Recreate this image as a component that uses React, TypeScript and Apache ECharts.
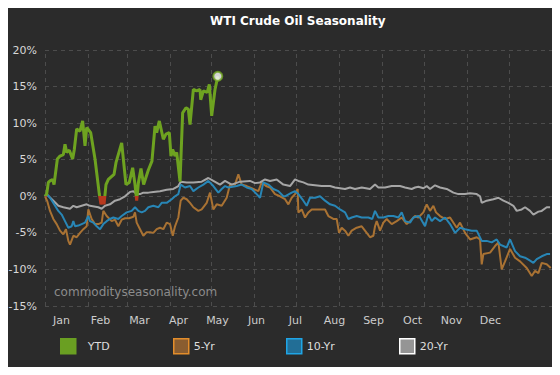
import React, { useEffect, useRef } from "react";
import * as echarts from "echarts";

const TITLE = "WTI Crude Oil Seasonality";
const MONTHS = ["Jan", "Feb", "Mar", "Apr", "May", "Jun", "Jul", "Aug", "Sep", "Oct", "Nov", "Dec", ""];
const MONTH_STARTS = [0, 31, 59, 90, 120, 151, 181, 212, 243, 273, 304, 334, 365];
const Y_MIN = -15;
const Y_MAX = 20;
const Y_STEP = 5;

const YTD: [number, number][] = [
  [0, 0], [1.2, 0.3], [2.4, 1.9], [3.6, 2.1], [5.5, 2.3], [6.5, 1.6], [8.9, 5.1], [10.8, 5.5],
  [13.2, 5.7], [14.4, 7.1], [15.6, 6.0], [17.5, 6.3], [19.9, 5.1], [21.1, 6.4], [22.8, 9.2],
  [25.2, 8.9], [27.1, 10.3], [28.8, 6.9], [30.0, 9.4], [32.9, 8.7], [36.0, 5.1], [39.1, 0.3],
  [40.3, -1.1], [41.5, 0], [42.5, -1.1], [43.9, 1.6], [45.6, 2.3], [49.7, 3.0], [51.1, 4.6],
  [55.2, 7.3], [58.3, 1.6], [60.7, 1.9], [63.1, 3.9], [64.8, 1.6], [66.0, -0.6], [67.2, 1.8],
  [69.1, 3.8], [71.0, 1.6], [74.4, 3.6], [77.0, 4.8], [79.2, 9.6], [80.4, 8.7], [82.3, 10.3],
  [85.2, 7.8], [87.1, 8.5], [89.5, 8.7], [90.7, 5.5], [91.9, 6.4], [93.6, 5.5], [94.8, 6.0],
  [97.2, 2.0], [99.1, 11.4], [101.5, 12.1], [103.2, 11.9], [104.4, 9.8], [106.8, 14.6],
  [109.2, 14.4], [111.6, 14.6], [112.1, 13.2], [114.0, 14.4], [116.8, 14.2], [118.3, 15.3],
  [120.0, 11.0], [122.4, 14.6], [124.4, 16.4],
];

const FIVE_YR: [number, number][] = [
  [0, 0], [1.7, -0.7], [3.6, -2.0], [6.0, -3.1], [8.4, -3.8], [10.8, -4.7], [13.2, -5.2],
  [15.1, -4.5], [16.8, -6.1], [18.0, -6.6], [20.4, -5.4], [22.8, -5.6], [25.2, -5.0],
  [27.6, -4.5], [30.0, -4.1], [31.2, -1.8], [33.6, -3.1], [36.0, -3.8], [38.4, -3.8],
  [40.8, -3.6], [42.0, -2.0], [44.4, -2.7], [48.0, -3.4], [50.4, -3.2], [52.8, -4.1],
  [55.2, -3.2], [57.6, -3.0], [60.5, -3.0], [63.6, -2.8], [64.8, -2.2], [66.0, -3.6],
  [68.4, -4.5], [70.8, -5.4], [73.2, -4.9], [75.6, -4.9], [78.0, -5.0], [80.4, -4.5],
  [82.8, -4.3], [85.2, -4.5], [87.6, -3.6], [90.0, -3.8], [92.0, -5.4], [93.6, -4.1],
  [96.0, -2.9], [97.7, -0.6], [99.6, -0.2], [102.0, -0.4], [104.4, -0.9], [106.8, -1.5],
  [110.4, -2.0], [112.8, -1.8], [116.4, -0.9], [118.8, 0.5], [121.2, -1.8], [123.6, -1.1],
  [127.2, -1.3], [130.8, -0.2], [133.2, 1.6], [136.8, 1.6], [139.2, 3.0], [141.6, 1.6],
  [145.2, 1.4], [150.0, 1.0], [153.6, 0.7], [156.0, 1.9], [159.1, 1.4], [162.0, 1.2],
  [165.6, 0.3], [169.2, 0], [172.8, -0.4], [175.2, -1.1], [177.6, -0.2], [180.0, 0.3],
  [181.9, 1.0], [182.4, -2.2], [184.8, -1.8], [187.2, -2.9], [189.6, -2.2], [192.0, -1.8],
  [196.8, -1.8], [201.6, -1.8], [204.0, -2.7], [207.6, -3.1], [210.0, -3.1], [211.7, -5.0],
  [213.6, -4.3], [216.0, -4.7], [218.4, -5.4], [220.8, -4.7], [224.4, -4.3], [228.0, -4.1],
  [231.6, -5.0], [234.0, -5.6], [236.4, -5.4], [237.6, -4.1], [238.8, -3.4], [241.2, -4.7],
  [243.6, -3.6], [246.0, -3.1], [249.6, -3.8], [253.2, -3.4], [256.8, -2.9], [260.4, -3.8],
  [262.8, -3.4], [266.4, -2.7], [268.8, -2.9], [272.4, -2.2], [274.8, -1.1], [277.2, -2.0],
  [279.6, -1.3], [281.5, -2.2], [284.4, -2.7], [288.0, -3.1], [291.6, -2.9], [296.4, -4.3],
  [298.8, -3.6], [302.4, -5.0], [306.0, -5.9], [310.8, -5.6], [313.2, -5.9], [314.4, -9.3],
  [315.6, -7.9], [320.4, -7.7], [324.0, -6.8], [326.4, -6.3], [328.8, -10.0], [331.2, -8.9],
  [334.8, -7.2], [338.4, -8.4], [342.0, -8.9], [346.8, -9.8], [350.4, -10.9], [352.8, -10.2],
  [355.2, -10.5], [357.6, -9.1], [361.2, -9.3], [364.1, -9.8],
];

const TEN_YR: [number, number][] = [
  [0, 0], [1.2, 0.3], [3.6, -0.2], [6.0, -0.9], [9.6, -2.0], [12.0, -2.5], [14.4, -3.4],
  [16.8, -4.3], [19.2, -4.1], [20.4, -3.4], [21.6, -4.1], [24.0, -4.0], [26.4, -3.8],
  [28.8, -3.6], [31.2, -2.7], [32.4, -3.4], [34.8, -3.6], [37.2, -4.1], [39.6, -4.5],
  [42.0, -3.8], [44.4, -3.4], [46.8, -3.1], [49.2, -2.9], [52.8, -3.1], [55.2, -2.7],
  [58.8, -2.2], [62.4, -2.0], [64.8, -1.5], [67.2, -2.0], [69.6, -2.2], [72.0, -2.0],
  [74.4, -1.5], [78.0, -1.3], [81.6, -1.5], [84.0, -0.9], [87.6, -0.9], [91.2, -0.4],
  [93.6, 0], [96.0, 0.3], [97.7, 1.6], [100.8, 1.2], [104.4, 1.4], [106.8, 0.7], [110.4, 1.2],
  [114.0, 1.6], [117.6, 2.1], [121.2, 1.4], [124.8, 0.5], [127.2, 1.0], [129.6, 1.4],
  [132.0, 1.2], [138.0, 1.4], [141.6, 1.6], [145.2, 1.2], [148.8, 1.0], [152.4, 0.3],
  [154.8, -0.2], [157.2, 1.9], [160.8, 1.6], [164.4, 1.0], [168.0, 0.7], [171.6, 0],
  [172.8, 0], [177.6, 0.5], [180.0, 0.7], [182.4, 0.3], [186.0, -0.6], [188.4, -1.3],
  [190.8, -0.2], [194.4, -0.2], [198.0, 0], [201.6, -0.6], [205.2, -1.1], [208.8, -1.3],
  [212.4, -1.8], [216.0, -2.2], [218.4, -3.1], [220.8, -2.9], [224.4, -2.7], [228.0, -2.9],
  [232.8, -2.9], [235.6, -3.1], [237.6, -2.0], [240.0, -2.9], [243.6, -2.9], [247.2, -2.7],
  [250.8, -2.7], [254.4, -2.9], [256.8, -2.2], [259.2, -3.4], [262.8, -3.6], [265.2, -2.9],
  [268.8, -2.7], [270.0, -2.9], [273.6, -4.1], [276.0, -2.5], [278.4, -3.4], [280.8, -2.9],
  [284.4, -3.4], [288.0, -2.9], [291.6, -3.8], [295.2, -5.0], [298.8, -4.3], [302.4, -4.5],
  [307.2, -4.7], [310.8, -4.7], [314.4, -6.1], [318.0, -6.1], [321.6, -6.3], [325.2, -5.9],
  [327.6, -6.6], [332.4, -7.0], [334.8, -5.9], [338.4, -7.5], [342.0, -8.2], [345.6, -8.4],
  [349.2, -8.8], [351.6, -9.1], [354.0, -8.6], [357.6, -8.2], [361.2, -7.9], [363.6, -7.9],
];

const TWENTY_YR: [number, number][] = [
  [0, 0], [1.2, 0.3], [6.0, -0.6], [9.6, -1.3], [13.2, -1.5], [18.0, -1.7], [20.4, -1.3],
  [22.8, -1.5], [26.4, -1.3], [30.0, -1.1], [32.4, -1.3], [38.4, -1.5], [40.8, -1.7],
  [43.2, -1.3], [46.8, -1.1], [50.4, -0.6], [54.0, -0.4], [57.6, 0], [61.2, 0.6], [63.6, 0.7],
  [66.0, 0.3], [68.4, 0.3], [70.8, 0.5], [74.4, 0.5], [78.0, 0.6], [82.8, 0.7], [87.6, 0.9],
  [92.4, 1.0], [96.0, 1.4], [97.7, 2.0], [102.0, 1.9], [106.8, 1.9], [112.8, 2.0],
  [117.6, 2.5], [121.2, 2.1], [126.0, 1.6], [129.6, 2.1], [134.4, 1.6], [140.4, 2.0],
  [147.6, 2.1], [151.2, 1.8], [154.8, 1.9], [158.4, 2.3], [162.0, 2.1], [166.8, 2.3],
  [171.6, 1.6], [176.4, 1.4], [180.0, 2.3], [182.4, 2.1], [186.0, 1.9], [189.6, 1.6],
  [199.2, 1.4], [205.2, 1.4], [208.8, 1.2], [216.0, 1.0], [219.6, 1.2], [223.2, 1.0],
  [228.0, 1.2], [234.0, 1.0], [237.6, 1.6], [240.0, 1.2], [244.8, 1.2], [249.6, 1.4],
  [255.6, 1.4], [259.2, 1.2], [264.0, 1.0], [266.4, 1.2], [268.8, 1.3], [272.4, 1.1],
  [274.8, 1.4], [277.2, 1.0], [280.8, 1.5], [284.4, 1.2], [289.2, 1.0], [294.0, 0.5],
  [297.6, 0.3], [302.4, 0.3], [306.0, 0.4], [310.8, 0.3], [313.2, 0], [314.4, -0.9],
  [318.0, -0.6], [322.8, -0.4], [326.4, -0.2], [330.0, -0.6], [333.6, -0.9], [337.2, -1.3],
  [339.6, -2.0], [343.2, -1.8], [345.6, -1.5], [349.2, -2.0], [351.6, -2.5], [355.2, -2.1],
  [357.6, -2.0], [361.2, -1.5], [363.6, -1.5],
];

const GREEN = "#6ea320";
const RED = "#b8391e";
const ORANGE = "#a97233";
const BLUE = "#2886b6";
const GREY = "#a6a6a6";
const GRID_COLOR = "#4c4c4c";
const FONT = "DejaVu Sans";

export default function App() {
  const ref = useRef<HTMLDivElement>(null);
  useEffect(() => {
    if (!ref.current) return;
    const chart = echarts.init(ref.current, null, { renderer: "svg" });
    const last = YTD[YTD.length - 1];
    const legendBase = (name: string, left: number, fill: string, border: string, pad: number) => ({
      data: [{ name, itemStyle: { color: fill, borderColor: border, borderWidth: 1.5 } }],
      left,
      top: 338,
      padding: 0,
      icon: "rect",
      itemWidth: 15,
      itemHeight: 15,
      selectedMode: false,
      textStyle: { color: "#dddddd", fontSize: 11, fontFamily: FONT, padding: [0, 0, 0, pad] },
    });
    chart.setOption({
      animation: false,
      backgroundColor: "#2b2b2b",
      title: {
        text: TITLE,
        left: 210,
        top: 15,
        padding: 0,
        textStyle: { color: "#ffffff", fontSize: 12, fontWeight: "bold", fontFamily: FONT },
      },
      grid: { left: 45, right: 8, top: 50, bottom: 69, containLabel: false },
      xAxis: [
        {
          type: "value",
          min: 0,
          max: 365,
          splitLine: { show: false },
          axisLine: { show: false },
          axisTick: { show: false },
          axisLabel: { show: false },
        },
        {
          type: "category",
          data: MONTHS,
          position: "bottom",
          boundaryGap: true,
          axisLine: { show: false },
          axisTick: { show: false },
          splitLine: { show: false },
          axisLabel: {
            interval: 0,
            color: "#cccccc",
            fontSize: 11,
            fontFamily: FONT,
            margin: 9,
            padding: [0, 6, 0, 0],
          },
        },
      ],
      yAxis: {
        type: "value",
        min: Y_MIN,
        max: Y_MAX,
        interval: Y_STEP,
        axisLine: { show: false },
        axisTick: { show: false },
        axisLabel: {
          formatter: "{value}%",
          color: "#d8d8d8",
          fontSize: 11,
          fontFamily: FONT,
          margin: 8,
        },
        splitLine: { show: true, lineStyle: { color: GRID_COLOR, type: [4, 4], width: 1 } },
      },
      visualMap: {
        type: "piecewise",
        show: false,
        seriesIndex: 3,
        dimension: 1,
        pieces: [
          { gte: -50, lt: 0, color: RED },
          { gte: 0, lte: 50, color: GREEN },
        ],
        outOfRange: { color: GREEN },
      },
      legend: [
        legendBase("YTD", 60, "#6a9f22", "#6a9f22", 7),
        legendBase("5-Yr", 173, "#8a5d30", "#e38d2b", 0),
        legendBase("10-Yr", 286, "#226e96", "#1fa5e6", 0),
        legendBase("20-Yr", 399, "#959595", "#ffffff", 0),
      ],
      graphic: [
        {
          type: "text",
          left: 54,
          top: 286,
          style: { text: "commodityseasonality.com", fill: "#8c8c8c", font: `12px "${FONT}"` },
          silent: true,
        },
      ],
      series: [
        {
          name: "5-Yr",
          type: "line",
          data: FIVE_YR,
          showSymbol: false,
          symbol: "none",
          lineStyle: { color: ORANGE, width: 2 },
          itemStyle: { color: ORANGE },
          z: 2,
          markLine: {
            silent: true,
            symbol: ["none", "none"],
            label: { show: false },
            lineStyle: { color: GRID_COLOR, type: [4, 4], width: 1 },
            data: MONTH_STARTS.map((d) => ({ xAxis: d })),
            z: 1,
          },
        },
        {
          name: "10-Yr",
          type: "line",
          data: TEN_YR,
          showSymbol: false,
          symbol: "none",
          lineStyle: { color: BLUE, width: 2 },
          itemStyle: { color: BLUE },
          z: 3,
        },
        {
          name: "20-Yr",
          type: "line",
          data: TWENTY_YR,
          showSymbol: false,
          symbol: "none",
          lineStyle: { color: GREY, width: 2 },
          itemStyle: { color: GREY },
          z: 2,
        },
        {
          name: "YTD",
          type: "line",
          data: YTD,
          showSymbol: false,
          symbol: "none",
          lineStyle: { width: 3 },
          z: 5,
        },
        {
          name: "YTD-end",
          type: "scatter",
          data: [last],
          symbol: "circle",
          symbolSize: 9,
          itemStyle: { color: "#ffffff", borderColor: GREEN, borderWidth: 2 },
          z: 6,
        },
      ],
    });
    return () => chart.dispose();
  }, []);
  return <div ref={ref} style={{ width: 560, height: 375, margin: -8 }} />;
}
